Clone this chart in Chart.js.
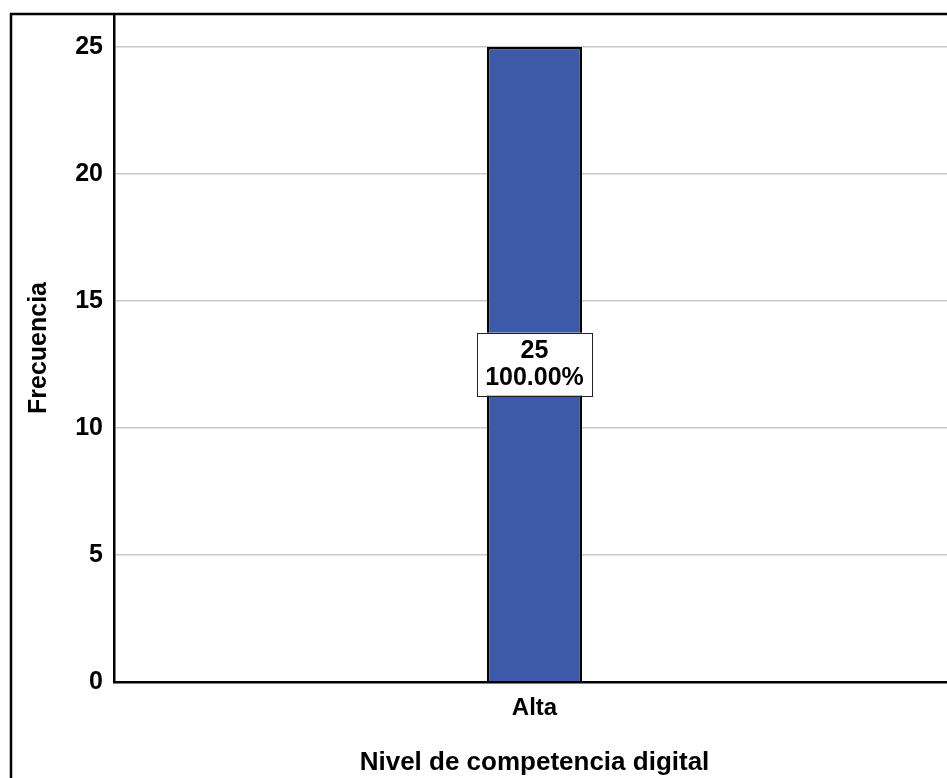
<!DOCTYPE html>
<html>
<head>
<meta charset="utf-8">
<script src="https://cdn.jsdelivr.net/npm/chart.js@4.4.1/dist/chart.umd.min.js"></script>
<style>
  html, body { margin: 0; padding: 0; background: #ffffff; overflow: hidden; }
  #wrap { width: 960px; height: 778px; }
</style>
</head>
<body>
<div id="wrap"><canvas id="c" width="960" height="778"></canvas></div>
<script>
const categories = ['Alta'];
const frequencies = [25];
const yTickValues = [0, 5, 10, 15, 20, 25];
const xAxisTitle = 'Nivel de competencia digital';
const yAxisTitle = 'Frecuencia';

const FONT = '"Liberation Sans", Arial, sans-serif';
const total = frequencies.reduce((a, b) => a + b, 0);

const framePlugin = {
  id: 'frame',
  beforeDraw(chart) {
    const ctx = chart.ctx;
    ctx.save();
    ctx.fillStyle = '#ffffff';
    ctx.fillRect(0, 0, chart.width, chart.height);
    ctx.strokeStyle = '#000000';
    ctx.lineWidth = 2.5;
    ctx.beginPath();
    ctx.moveTo(11, chart.height + 5);
    ctx.lineTo(11, 14);
    ctx.lineTo(chart.width + 5, 14);
    ctx.stroke();
    ctx.restore();
  }
};

const labelPlugin = {
  id: 'barLabels',
  afterDatasetsDraw(chart) {
    const ctx = chart.ctx;
    const meta = chart.getDatasetMeta(0);
    meta.data.forEach((bar, i) => {
      const v = frequencies[i];
      const pct = (v / total * 100).toFixed(2) + '%';
      const cx = bar.x;
      const cy = (bar.y + bar.base) / 2;
      const w = 115, h = 63;
      ctx.save();
      ctx.fillStyle = '#ffffff';
      ctx.fillRect(cx - w / 2, cy - h / 2, w, h);
      ctx.strokeStyle = '#222222';
      ctx.lineWidth = 1;
      ctx.strokeRect(Math.round(cx - w / 2) + 0.5, Math.round(cy - h / 2) + 0.5, w, h);
      ctx.fillStyle = '#000000';
      ctx.font = 'bold 25px ' + FONT;
      ctx.textAlign = 'center';
      ctx.textBaseline = 'middle';
      ctx.fillText(String(v), cx, cy - 13);
      ctx.fillText(pct, cx, cy + 14);
      ctx.restore();
    });
  }
};

new Chart(document.getElementById('c'), {
  type: 'bar',
  data: {
    labels: categories,
    datasets: [{
      data: frequencies,
      backgroundColor: '#3D5AA8',
      borderColor: '#000000',
      borderWidth: 2.5,
      borderSkipped: 'start',
      categoryPercentage: 1,
      barPercentage: 0.113
    }]
  },
  options: {
    responsive: false,
    animation: false,
    devicePixelRatio: 1,
    layout: { padding: { left: 11, top: 14, right: 5, bottom: 0 } },
    plugins: {
      legend: { display: false },
      tooltip: { enabled: false }
    },
    scales: {
      x: {
        grid: { display: false, drawTicks: false },
        border: { display: true, color: '#000000', width: 2.5 },
        ticks: {
          color: '#000000',
          font: { family: FONT, size: 24, weight: 'bold' },
          padding: 12
        },
        title: {
          display: true,
          text: xAxisTitle,
          color: '#000000',
          font: { family: FONT, size: 26, weight: 'bold' },
          padding: { top: 11, bottom: 0 }
        },
        afterFit(scale) {
          scale.height = 96;
          scale.paddingLeft = 0;
          scale.paddingRight = 0;
        }
      },
      y: {
        min: 0,
        max: 26.3,
        afterBuildTicks(scale) {
          scale.ticks = yTickValues.map(v => ({ value: v }));
        },
        grid: {
          color: (c) => c.tick && c.tick.value === 0 ? 'rgba(0,0,0,0)' : '#c8c8c8',
          lineWidth: 1.5,
          drawTicks: false
        },
        border: { display: true, color: '#000000', width: 2.5 },
        ticks: {
          color: '#000000',
          font: { family: FONT, size: 25, weight: 'bold' },
          padding: 11
        },
        title: {
          display: true,
          text: yAxisTitle,
          color: '#000000',
          font: { family: FONT, size: 25, weight: 'bold' },
          padding: { top: 13, bottom: 0 }
        },
        afterFit(scale) {
          scale.width = 103;
          scale.paddingTop = 0;
          scale.paddingBottom = 0;
        }
      }
    }
  },
  plugins: [framePlugin, labelPlugin]
});
</script>
</body>
</html>
